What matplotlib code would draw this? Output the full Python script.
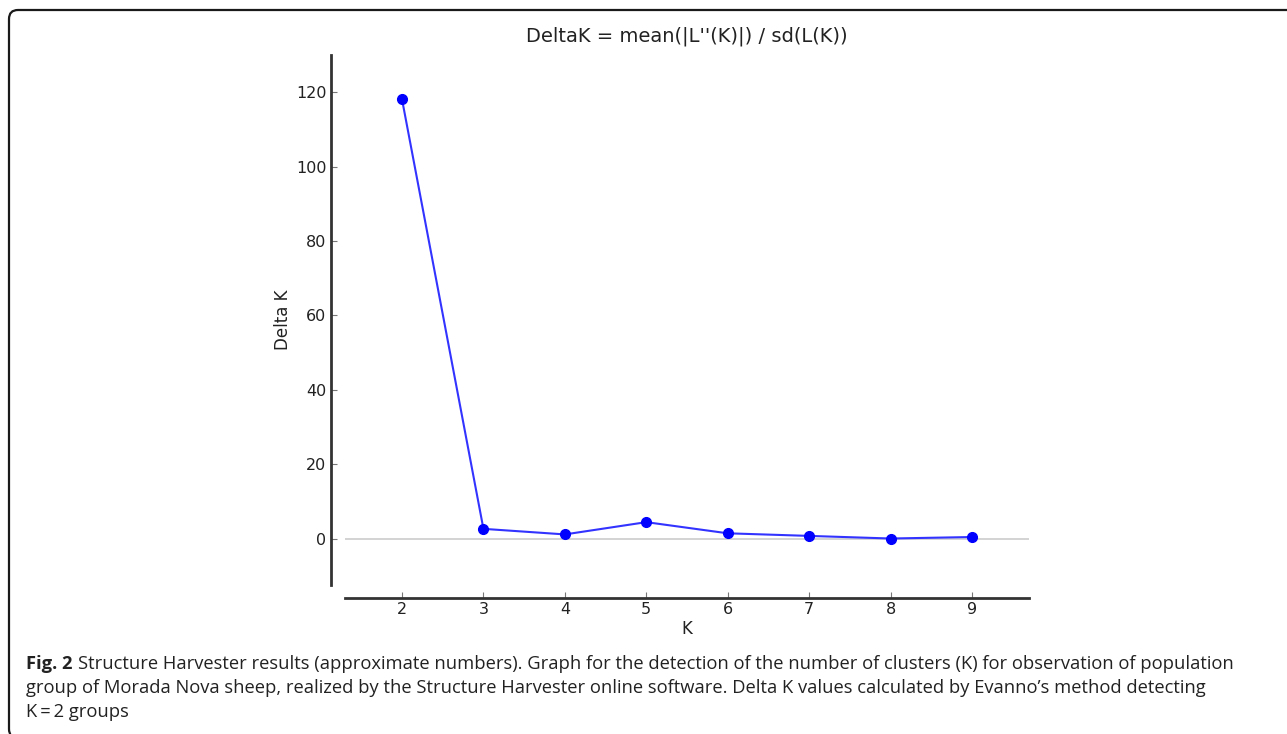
import matplotlib.pyplot as plt
from matplotlib.patches import PathPatch
from matplotlib.path import Path

# Delta K values per K
k_values = [2, 3, 4, 5, 6, 7, 8, 9]
delta_k = [118.1, 2.6, 1.1, 4.4, 1.4, 0.7, 0.0, 0.4]

W, H = 1287, 734
fig = plt.figure(figsize=(W / 100, H / 100), dpi=100)

# frame: top line and left side with rounded corners (pixel coords, y from top)
r = 9
pts = [(W + 5, 10), (9 + r, 10), (9, 10), (9, 10 + r), (9, 738 - r), (9, 738), (9 + r, 738)]
codes = [Path.MOVETO, Path.LINETO, Path.CURVE3, Path.CURVE3, Path.LINETO, Path.CURVE3, Path.CURVE3]
frame = PathPatch(Path([(x / W, 1 - y / H) for x, y in pts], codes), transform=fig.transFigure,
                  fill=False, edgecolor="#1a1a1a", linewidth=1.6)
fig.patches.append(frame)

ax = fig.add_axes([345 / W, 1 - 585 / H, 684 / W, 530 / H])
ax.axhline(0, color="#cccccc", linewidth=1.2, zorder=1)
ax.plot(k_values, delta_k, color="#3333ff", linewidth=1.5, marker="o",
        markersize=7, markerfacecolor="#0000ff", markeredgecolor="#0000ff", zorder=3)

ax.set_xlim(1.3, 9.7)
ax.set_ylim(-12.5, 130)
ax.set_xticks(k_values)
ax.set_yticks([0, 20, 40, 60, 80, 100, 120])

for s in ["top", "right"]:
    ax.spines[s].set_visible(False)
ax.spines["left"].set_position(("outward", 10))   # points
ax.spines["bottom"].set_position(("outward", 9.4))
for s in ["left", "bottom"]:
    ax.spines[s].set_color("#333333")
    ax.spines[s].set_linewidth(2)
ax.tick_params(direction="in", length=4, color="#777777", labelsize=11.5, labelcolor="#222222")
ax.tick_params(axis="x", pad=3)

ax.set_title("DeltaK = mean(|L''(K)|) / sd(L(K))", fontsize=14, pad=10, color="#222222")
ax.set_xlabel("K", fontsize=12, color="#222222", labelpad=2)
ax.set_ylabel("Delta K", fontsize=12, color="#222222", labelpad=3)

cap_font = ["Open Sans", "DejaVu Sans"]
line1 = ("Structure Harvester results (approximate numbers). Graph for the detection of the number of clusters (K) "
         "for observation of population")
line2 = ("group of Morada Nova sheep, realized by the Structure Harvester online software. Delta K values "
         "calculated by Evanno\u2019s method detecting")
line3 = "K\u2009=\u20092 groups"

# fit the caption width to the reference (first line runs from x=26 to about x=1236)
size = 14
x0 = 26
t = fig.text(x0 / W, 1 - 669 / H, "Fig. 2", fontsize=size, fontweight="bold", family=cap_font,
             va="baseline", color="#222222")
t1 = fig.text(0, 1 - 669 / H, line1, fontsize=size, family=cap_font, va="baseline", color="#222222")
fig.canvas.draw()
w = t.get_window_extent().width + 5 + t1.get_window_extent().width
size = size * (1210 / w)
t.set_fontsize(size)
t1.set_fontsize(size)
fig.canvas.draw()
bb = t.get_window_extent()
t1.set_x((bb.x1 + 5) / W)
fig.text(x0 / W, 1 - 693 / H, line2, fontsize=size, family=cap_font, va="baseline", color="#222222")
fig.text(x0 / W, 1 - 717 / H, line3, fontsize=size, family=cap_font, va="baseline", color="#222222")

fig.savefig("out.png", dpi=100)
